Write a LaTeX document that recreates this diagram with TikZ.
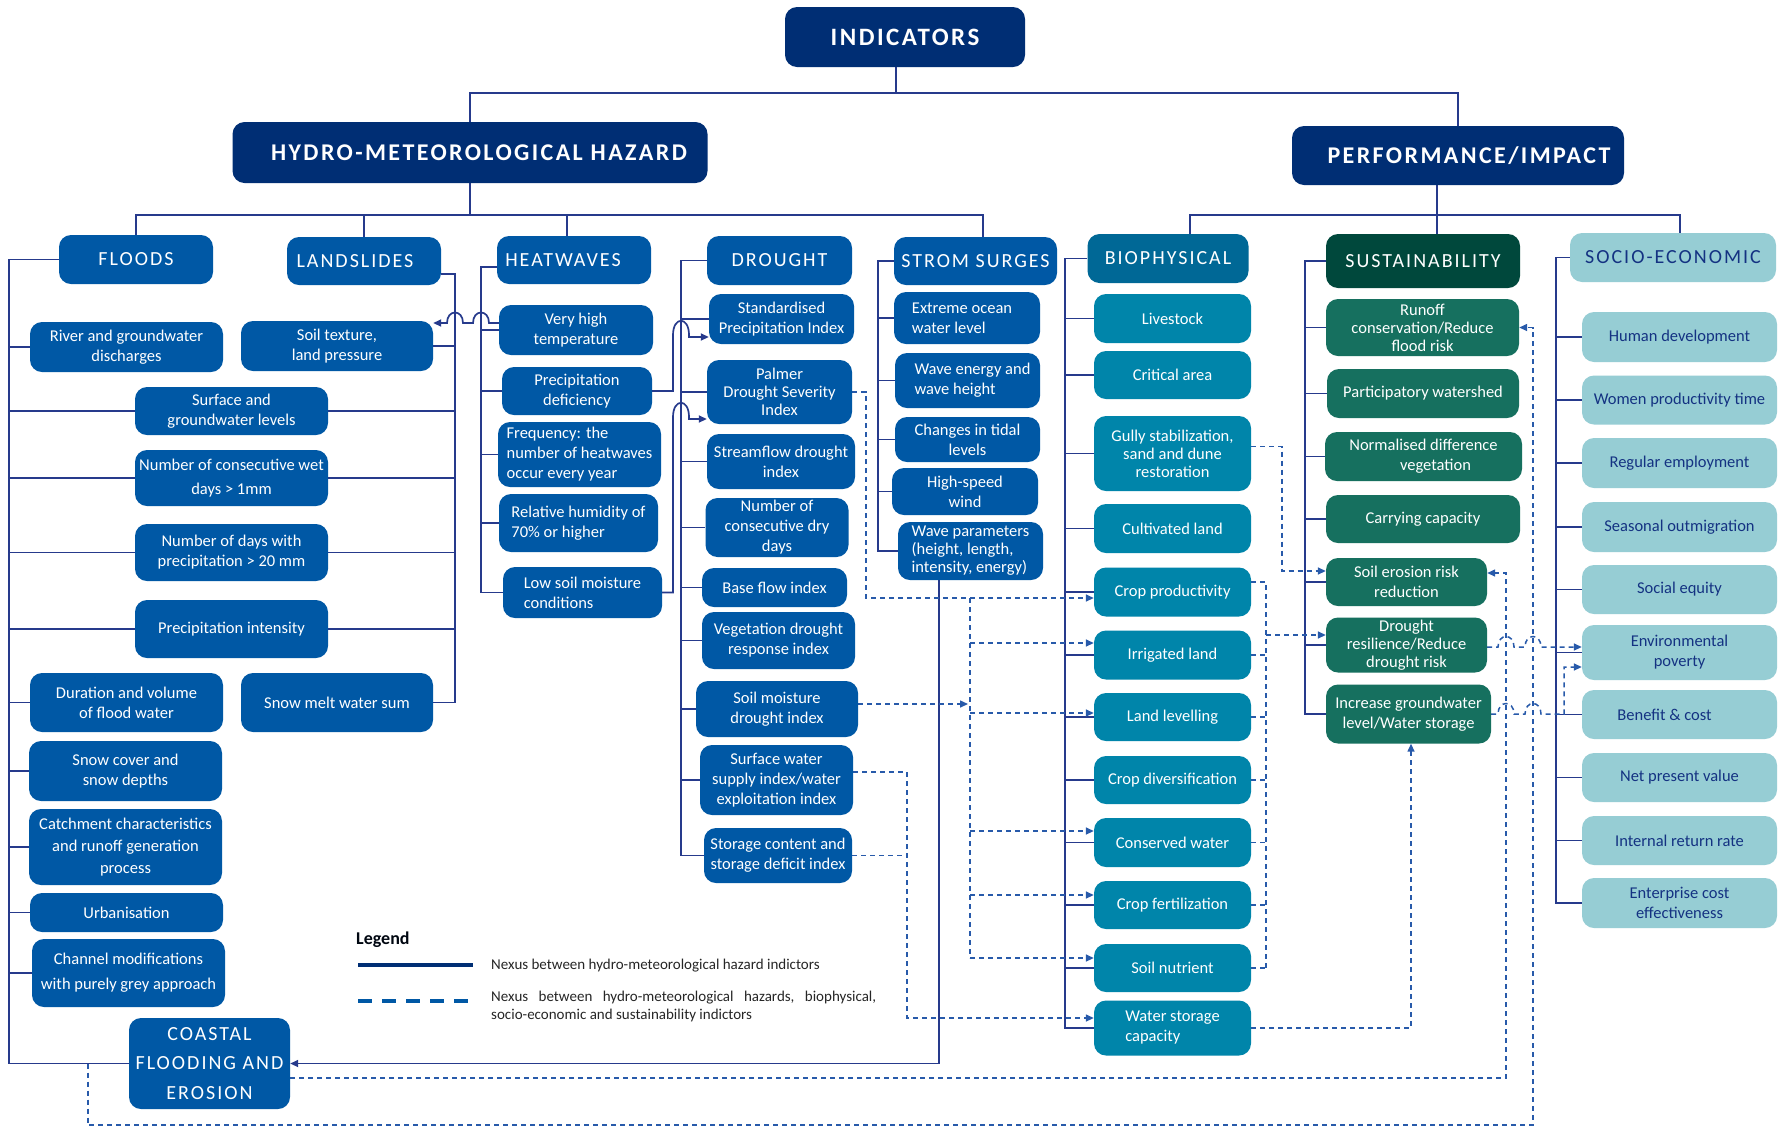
\documentclass[tikz,border=0pt]{standalone}
\usepackage{fontspec}
\setmainfont{Carlito}
\newfontfamily\capsfont[LetterSpace=10]{Carlito}
\usetikzlibrary{arrows.meta}
\definecolor{navy}{RGB}{0,46,116}
\definecolor{hblue}{RGB}{0,88,165}
\definecolor{bioH}{RGB}{0,104,150}
\definecolor{bioC}{RGB}{0,133,170}
\definecolor{susH}{RGB}{0,72,60}
\definecolor{susC}{RGB}{22,112,95}
\definecolor{socC}{RGB}{150,205,212}
\definecolor{socT}{RGB}{20,50,130}
\definecolor{lineC}{RGB}{38,58,140}
\definecolor{dashC}{RGB}{40,90,170}
\pgfdeclarelayer{bg}\pgfsetlayers{bg,main}
\newcommand\Bx[6]{\node[#1, minimum width=#4pt, minimum height=#5pt] (#2) at (#3) {#6};}
\begin{document}
\begin{tikzpicture}[x=1pt,y=-1pt,
  anybox/.style={rounded corners=12pt, inner sep=2pt, align=center, text=white, font=\fontsize{16.5}{20}\selectfont},
  topbox/.style={anybox, fill=navy, font=\capsfont\bfseries\fontsize{24}{28}\selectfont},
  catbox/.style={anybox, fill=hblue, font=\capsfont\fontsize{20}{24}\selectfont},
  coastbox/.style={anybox, fill=hblue, font=\capsfont\fontsize{20}{29.5}\selectfont},
  hzbox/.style={anybox, fill=hblue},
  biohbox/.style={catbox, fill=bioH}, bioc/.style={anybox, fill=bioC},
  sushbox/.style={catbox, fill=susH}, susc/.style={anybox, fill=susC},
  sochbox/.style={catbox, fill=socC, text=socT}, socc/.style={anybox, fill=socC, text=socT},
  tight/.style={font=\fontsize{16.5}{18}\selectfont},
  conn/.style={draw=lineC, line width=1.7pt},
  dconn/.style={draw=dashC, line width=1.5pt, dash pattern=on 5pt off 4pt},
  arr/.style={-{Triangle[length=8pt,width=7pt]}},
]
\useasboundingbox (0,0) rectangle (1779,1128);
% top level
\Bx{topbox,font=\capsfont\bfseries\fontsize{25}{28}\selectfont}{ind}{905,37}{240}{60}{\raisebox{-4.5pt}{INDICATORS}}
\Bx{topbox}{hmh}{470,152.5}{475}{61}{\hspace*{18pt}HYDRO-METEOROLOGICAL HAZARD}
\Bx{topbox}{pi}{1458,155.5}{332}{59}{\hspace*{22pt}PERFORMANCE/IMPACT}
% categories
\Bx{catbox}{floods}{136,259.5}{154}{49}{FLOODS}
\Bx{catbox}{landslides}{364,261}{154}{48}{LANDSLIDES\hspace*{18pt}}
\Bx{catbox}{heat}{574,260}{154}{48}{HEATWAVES\hspace*{22pt}}
\Bx{catbox}{drought}{779.5,260.5}{145}{49}{DROUGHT}
\Bx{catbox}{storm}{975.5,261}{163}{48}{STROM SURGES}
\Bx{biohbox}{bio}{1168,258.5}{161}{49}{BIOPHYSICAL}
\Bx{sushbox}{sust}{1423,261}{194}{54}{SUSTAINABILITY}
\Bx{sochbox}{socio}{1673,257.5}{206}{49}{SOCIO-ECONOMIC}
% floods / landslides
\Bx{hzbox}{river}{126.5,347}{193}{50}{River and groundwater\\discharges}
\Bx{hzbox}{soil}{337,346}{192}{50}{Soil texture,\\land pressure}
\Bx{hzbox}{surf}{231.5,411}{193}{48}{Surface and\\groundwater levels}
\Bx{hzbox}{wet}{231.5,478}{193}{56}{Number of consecutive wet\\[4pt]days > 1mm}
\Bx{hzbox}{dtw}{231.5,552.5}{193}{57}{Number of days with\\precipitation > 20 mm}
\Bx{hzbox}{pint}{231.5,629}{193}{58}{Precipitation intensity}
\Bx{hzbox}{dur}{126.5,702.5}{193}{59}{Duration and volume\\of flood water}
\Bx{hzbox}{smelt}{337,702.5}{192}{59}{Snow melt water sum}
\Bx{hzbox}{scov}{125.5,771}{193}{60}{Snow cover and\\snow depths}
\Bx{hzbox}{catch}{125.5,847}{193}{76}{Catchment characteristics\\[2pt]and runoff generation\\[2pt]process}
\Bx{hzbox}{urb}{126.5,912.5}{193}{39}{Urbanisation}
\Bx{hzbox}{chan}{128.5,973}{193}{68}{Channel modifications\\[5pt]with purely grey approach}
\Bx{coastbox}{coast}{209.5,1063.5}{161}{91}{COASTAL\\FLOODING AND\\EROSION}
% heatwaves
\Bx{hzbox}{vht}{576,330}{154}{50}{Very high\\temperature}
\Bx{hzbox}{pd}{577,391}{150}{48}{Precipitation\\deficiency}
\Bx{hzbox,align=left}{freq}{579.5,454.5}{163}{65}{Frequency: the\\number of heatwaves\\occur every year}
\Bx{hzbox,align=left}{rh}{578.5,523}{159}{58}{Relative humidity of\\70\% or higher}
\Bx{hzbox,align=left}{lsm}{582.5,592.5}{159}{51}{Low soil moisture\\conditions}
% drought
\Bx{hzbox}{spi}{781.5,319}{145}{50}{Standardised\\Precipitation Index}
\Bx{hzbox,tight}{palmer}{779.5,392}{145}{64}{Palmer\\Drought Severity\\Index}
\Bx{hzbox}{stream}{781,461.5}{148}{55}{Streamflow drought\\index}
\Bx{hzbox}{ndry}{777,527.5}{143}{59}{Number of\\consecutive dry\\days}
\Bx{hzbox}{base}{774.5,587.5}{145}{39}{Base flow index}
\Bx{hzbox}{veg}{778.5,640.5}{153}{57}{Vegetation drought\\response index}
\Bx{hzbox}{smdi}{777,709}{162}{56}{Soil moisture\\drought index}
\Bx{hzbox}{swsi}{776.5,780}{153}{70}{Surface water\\supply index/water\\exploitation index}
\Bx{hzbox}{storage}{778,855.5}{148}{55}{Storage content and\\storage deficit index}
% storm surges
\Bx{hzbox,align=left}{ext}{967,318}{146}{52}{Extreme ocean\hspace*{10pt}\\water level}
\Bx{hzbox,align=left}{wen}{967.5,380.5}{145}{55}{\hspace*{10pt}Wave energy and\\\hspace*{10pt}wave height}
\Bx{hzbox}{tidal}{967.5,439.5}{145}{45}{Changes in tidal\\levels}
\Bx{hzbox}{hsw}{965,491.5}{146}{47}{High-speed\\wind}
\Bx{hzbox,align=left,tight}{wpar}{970.5,551}{145}{58}{Wave parameters\\(height, length,\\intensity, energy)}
% biophysical
\Bx{bioc}{livestock}{1172.5,318.5}{157}{49}{Livestock}
\Bx{bioc}{critical}{1172.5,375}{157}{48}{Critical area}
\Bx{bioc,tight}{gully}{1172.5,453.5}{157}{75}{Gully stabilization,\\sand and dune\\restoration}
\Bx{bioc}{cult}{1172.5,528.5}{157}{49}{Cultivated land}
\Bx{bioc}{cprod}{1172.5,592}{157}{49}{Crop productivity}
\Bx{bioc}{irrig}{1172.5,655}{157}{49}{Irrigated land}
\Bx{bioc}{landl}{1172.5,717}{157}{48}{Land levelling}
\Bx{bioc}{cdiv}{1172.5,780}{157}{48}{Crop diversification}
\Bx{bioc}{cons}{1172.5,842.5}{157}{49}{Conserved water}
\Bx{bioc}{fert}{1172.5,905}{157}{48}{Crop fertilization}
\Bx{bioc}{nutr}{1172.5,968}{157}{48}{Soil nutrient}
\Bx{bioc,align=left}{wsc}{1172.5,1028}{157}{55}{Water storage\\capacity}
% sustainability
\Bx{susc,tight}{runoff}{1422.5,327.5}{193}{57}{Runoff\\conservation/Reduce\\flood risk}
\Bx{susc}{part}{1423,393.5}{192}{49}{Participatory watershed}
\Bx{susc}{ndv}{1423.5,456.5}{197}{49}{Normalised difference\\\hspace*{24pt}vegetation}
\Bx{susc}{carry}{1423,519}{194}{48}{Carrying capacity}
\Bx{susc}{sero}{1406.5,582}{161}{48}{Soil erosion risk\\reduction}
\Bx{susc,tight}{dres}{1406.5,645}{161}{55}{Drought\\resilience/Reduce\\drought risk}
\Bx{susc}{incr}{1408.5,714}{165}{59}{Increase groundwater\\level/Water storage}
% socio-economic
\Bx{socc}{hd}{1679.5,337}{195}{50}{Human development}
\Bx{socc}{wpt}{1679.5,400}{195}{49}{Women productivity time}
\Bx{socc}{reg}{1679.5,463}{195}{50}{Regular employment}
\Bx{socc}{seas}{1679.5,527}{195}{50}{Seasonal outmigration}
\Bx{socc}{seq}{1679.5,589.5}{195}{49}{Social equity}
\Bx{socc}{envp}{1679.5,652.5}{195}{55}{Environmental\\poverty}
\Bx{socc}{bc}{1679.5,714.5}{195}{49}{Benefit \& cost\hspace*{30pt}}
\Bx{socc}{npv}{1679.5,777.5}{195}{49}{Net present value}
\Bx{socc}{irr}{1679.5,840.5}{195}{49}{Internal return rate}
\Bx{socc}{ent}{1679.5,903}{195}{50}{Enterprise cost\\effectiveness}
% legend
\node[anchor=west, inner sep=0pt, text=black!85!navy, font=\bfseries\fontsize{18}{20}\selectfont] (leg) at (356,940) {Legend};
\node[anchor=west, inner sep=0pt, text=black!85, font=\fontsize{15}{18}\selectfont] (leg1) at (491,966) {Nexus between hydro-meteorological hazard indictors};
\node[anchor=north west, inner sep=0pt, align=left, text=black!85, font=\fontsize{15}{18}\selectfont] (leg2) at (491,991) {\hbox to 385pt{Nexus\hfill between\hfill hydro-meteorological\hfill hazards,\hfill biophysical,}\\socio-economic and sustainability indictors};
\coordinate (la) at (358,965); \coordinate (lb) at (473,965);
\coordinate (lc) at (358,1001); \coordinate (ld) at (473,1001);

\begin{pgfonlayer}{bg}
\fill[white] (0,0) rectangle (1779,1128);
\draw[draw=navy, line width=3.5pt] (la) -- (lb);
\draw[draw=hblue, line width=4pt, dash pattern=on 14pt off 10pt] (lc) -- (ld);
% tree
\coordinate (ij) at (896,93);
\coordinate (hj) at (470,215);
\draw[conn] ([xshift=-9pt]ind.south) -- (ij);
\draw[conn] (hmh.north) |- (ij) -| (pi.north);
\draw[conn] (hmh.south) -- (hj);
\draw[conn] (floods.north) |- (hj) -| ([xshift=7.5pt]storm.north);
\draw[conn] (landslides.north) -- ++(0,-22);
\draw[conn] ([xshift=-7pt]heat.north) -- ++(0,-21);
\draw[conn] ([xshift=-21pt]pi.south) -- ([xshift=14pt]sust.north);
\draw[conn] ([xshift=22pt]bio.north) -- ++(0,-19) -| ([xshift=7pt]socio.north);
% brackets
\coordinate (fx) at (9,0); \coordinate (lx) at (455,0); \coordinate (hx) at (481,0);
\coordinate (dx) at (681,0); \coordinate (sx) at (878,0); \coordinate (bx) at (1065,0);
\coordinate (ux) at (1305,0); \coordinate (ex) at (1556,0); \coordinate (rk) at (1266,0);
\draw[conn] (floods.west) -| (fx |- coast.west) -- (coast.west);
\foreach \n in {river,surf,wet,dtw,pint,dur,scov,catch,urb,chan} \draw[conn] (fx |- \n.west) -- (\n.west);
\draw[conn] ([yshift=-13pt]landslides.east) -| (lx |- smelt.east) -- (smelt.east);
\foreach \n in {soil,surf,wet,dtw,pint} \draw[conn] (\n.east) -- (lx |- \n.east);
\draw[conn] ([yshift=-7pt]heat.west) -| (hx |- lsm.west) -- (lsm.west);
\foreach \n in {vht,pd,freq,rh} \draw[conn] (hx |- \n.west) -- (\n.west);
\draw[conn] (drought.west) -| (dx |- storage.west) -- (storage.west);
\foreach \n in {spi,palmer,stream,ndry,base,veg,smdi,swsi} \draw[conn] (dx |- \n.west) -- (\n.west);
\draw[conn] (storm.west) -| (sx |- wpar.west) -- (wpar.west);
\foreach \n in {ext,wen,tidal,hsw} \draw[conn] (sx |- \n.west) -- (\n.west);
\draw[conn] (bio.west) -| (bx |- wsc.west) -- (wsc.west);
\foreach \n in {livestock,critical,gully,cult,cprod,irrig,landl,cdiv,cons,fert,nutr} \draw[conn] (bx |- \n.west) -- (\n.west);
\draw[conn] (sust.west) -| (ux |- incr.west) -- (incr.west);
\foreach \n in {runoff,part,ndv,carry,sero,dres} \draw[conn] (ux |- \n.west) -- (\n.west);
\draw[conn] (socio.west) -| (ex |- ent.west) -- (ent.west);
\foreach \n in {hd,wpt,reg,seas,seq,envp,bc,npv,irr} \draw[conn] (ex |- \n.west) -- (\n.west);
% solid cross links
\draw[conn, arr] ([yshift=7pt]vht.west) -- (489,323) .. controls (489,309) and (473,309) .. (473,323) -- (463,323) .. controls (463,309) and (447,309) .. (447,323) -- ([yshift=23pt]soil.east);
\draw[conn, arr] (pd.east) -- (673,391) -- (673,335) .. controls (673,316) and (689,316) .. (689,335) -- (689,337) -- ([yshift=-18pt]spi.west);
\draw[conn, arr] (lsm.east) -- (673,592.5) -- (673,417) .. controls (673,398) and (689,398) .. (689,417) -- (689,419) -- ([yshift=-27pt]palmer.west);
\draw[conn, arr] ([xshift=-31.5pt]wpar.south) |- (coast.east);
% dashed links
\draw[dconn, arr] (palmer.east) -- (866,392) |- ([yshift=-6pt]cprod.west);
\draw[dconn] (970,598) -- (970,958);
\draw[dconn, arr] (970,643) -- ([yshift=12pt]irrig.west);
\draw[dconn, arr] (970,713) -- ([yshift=4pt]landl.west);
\draw[dconn, arr] (970,831) -- ([yshift=11.5pt]cons.west);
\draw[dconn, arr] (970,895) -- ([yshift=10pt]fert.west);
\draw[dconn, arr] (970,958) -- ([yshift=10pt]nutr.west);
\draw[dconn, arr] ([yshift=5pt]smdi.east) -- (968,704);
\draw[dconn, arr] ([yshift=8pt]swsi.east) -- (907,772) |- ([yshift=10pt]wsc.west);
\draw[dconn] (storage.east) -- (907,855.5);
\draw[dconn] ([yshift=10pt]cprod.east) -- (1266,582) -- (1266,968);
\foreach \n in {irrig,landl,cdiv,cons,fert,nutr} \draw[dconn] (\n.east) -- (\n.east -| rk);
\draw[dconn, arr] (1266,635) -- ([yshift=10pt]dres.west);
\draw[dconn, arr] ([yshift=7pt]gully.east) -- (1282,446.5) |- ([yshift=11pt]sero.west);
\draw[dconn, arr] ([yshift=-2pt]dres.east) -- (1498,647) .. controls (1498,633) and (1514,633) .. (1514,647) -- (1525,647) .. controls (1525,633) and (1541,633) .. (1541,647) -- ([yshift=5.5pt]envp.west);
\draw[dconn, arr] (incr.east) -- (1498,714) .. controls (1498,700) and (1514,700) .. (1514,714) -- (1525,714) .. controls (1525,700) and (1541,700) .. (1541,714) -- (1564,714) |- ([yshift=-14.5pt]envp.west);
\draw[dconn, arr] ([yshift=-14.5pt]coast.east) -| (1506,573) -- ([yshift=9pt]sero.east);
\draw[dconn, arr] ([xshift=-41pt]coast.west) |- (1533,1125) |- (runoff.east);
\draw[dconn, arr] (wsc.east) -| ([xshift=2.5pt]incr.south);
\end{pgfonlayer}
\end{tikzpicture}
\end{document}
